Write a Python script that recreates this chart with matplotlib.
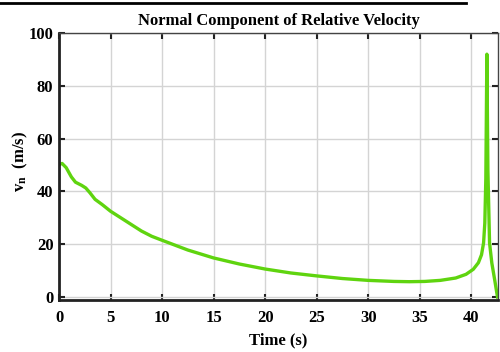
import matplotlib
matplotlib.use('Agg')
import matplotlib.pyplot as plt
from matplotlib.lines import Line2D
import numpy as np

plt.rcParams['font.family'] = 'Liberation Serif'
plt.rcParams['font.weight'] = 'bold'
plt.rcParams['mathtext.fontset'] = 'custom'
plt.rcParams['mathtext.rm'] = 'Liberation Serif:bold'
plt.rcParams['mathtext.bf'] = 'Liberation Serif:bold'

# time (s) and normal relative velocity (m/s)
time = [0, 0.3, 0.7, 1.2, 1.6, 2.2, 2.6, 3.0, 3.5, 4.2, 5, 6, 7, 8, 9, 10,
        12.5, 15, 17.5, 20, 22.5, 25, 27.5, 30, 32.5, 34, 35.5, 37, 38.5,
        39.5, 40.2, 40.7, 41.0, 41.2, 41.32, 41.42, 41.52, 41.62, 41.78,
        42.0, 42.3, 42.55]
vn = [50.2, 50.6, 49, 45.5, 43.5, 42.3, 41.3, 39.5, 37, 35, 32.5, 30, 27.5,
      25, 23, 21.5, 17.8, 14.8, 12.5, 10.6, 9.1, 8, 7, 6.3, 5.9, 5.8, 5.9,
      6.3, 7.2, 8.6, 10.5, 13, 16, 20.5, 28, 45, 92, 48, 20.5, 12.9, 6, 0]

xticks = [0, 5, 10, 15, 20, 25, 30, 35, 40]
yticks = [0, 20, 40, 60, 80, 100]

fig = plt.figure(figsize=(5, 3.52), dpi=100)
ax = fig.add_axes([0.118, 0.148, 0.878, 0.758])

ax.plot(time, vn, color='#5fd40f', lw=2.4)

ax.set_xlim(0, 42.6)
ax.set_ylim(-1.1, 100)
ax.set_xticks(xticks)
ax.set_yticks(yticks)
ax.grid(color='#d4d4d4', lw=1)
ax.tick_params(direction='in', top=True, right=True, length=4, width=1.5,
               labelsize=12, color='#222222')
ax.tick_params(axis='x', pad=7)
ax.tick_params(axis='y', pad=4)
for s in ['left', 'bottom']:
    ax.spines[s].set_linewidth(2)
    ax.spines[s].set_color('#222222')
for s in ['top', 'right']:
    ax.spines[s].set_linewidth(1)
    ax.spines[s].set_color('#444444')

ax.set_title('Normal Component of Relative Velocity', fontsize=12,
             fontweight='bold', pad=6)
ax.set_xlabel('Time (s)', fontsize=12, fontweight='bold', labelpad=5)
ax.set_ylabel(r'$\mathbf{v_n}$  (m/s)', fontsize=12, fontweight='bold')
ax.yaxis.set_label_coords(-0.066, 0.52)

fig.add_artist(Line2D([0, 0.932], [0.991, 0.991], color='black', lw=2,
                      transform=fig.transFigure))

fig.savefig('out.png', dpi=100)
